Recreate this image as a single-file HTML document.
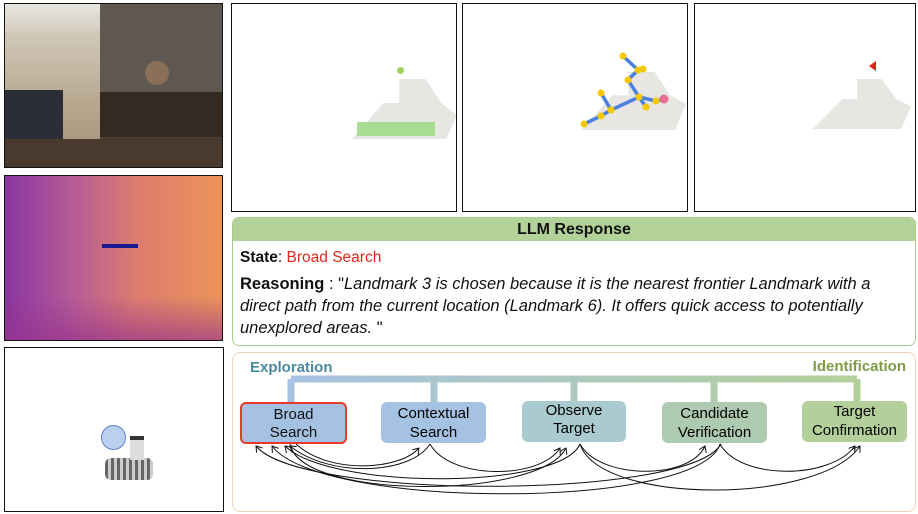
<!DOCTYPE html>
<html><head><meta charset="utf-8"><style>
body{margin:0;width:918px;height:514px;background:#fff;position:relative;overflow:hidden;font-family:"Liberation Sans",sans-serif}
.p{position:absolute;border:1.5px solid #111;box-sizing:border-box;overflow:hidden}
</style></head><body>
<!-- RGB image -->
<div class="p" style="left:4px;top:3px;width:219px;height:165px;background:linear-gradient(180deg,#3a332c 0%,#4a4038 60%,#4b3c30 100%)">
 <div style="position:absolute;left:0;top:0;width:95px;height:165px;background:linear-gradient(180deg,#e8e6e2 0%,#cfc6b6 20%,#b8a890 60%,#a08f78 100%)"></div>
 <div style="position:absolute;left:0;top:86px;width:58px;height:80px;background:#2b2e36"></div>
 <div style="position:absolute;left:95px;top:0;width:124px;height:88px;background:#5e5850"></div>
 <div style="position:absolute;left:95px;top:88px;width:124px;height:45px;background:#352a22"></div>
 <div style="position:absolute;left:0;top:135px;width:219px;height:30px;background:#4a3a2e"></div>
 <div style="position:absolute;left:140px;top:57px;width:24px;height:24px;border-radius:50%;background:#8a7058"></div>
</div>
<!-- Depth -->
<div class="p" style="left:4px;top:175px;width:219px;height:166px;background:linear-gradient(90deg,#8a35a0 0%,#b45a98 30%,#dc7c70 60%,#eb9458 100%)">
 <div style="position:absolute;left:0;top:120px;width:219px;height:46px;background:linear-gradient(180deg,rgba(200,100,120,0) 0%,rgba(150,50,140,.7) 100%)"></div>
 <div style="position:absolute;left:97px;top:68px;width:36px;height:4px;background:#1a1a90"></div>
</div>
<!-- Robot -->
<div class="p" style="left:4px;top:347px;width:220px;height:165px;background:#fff">
 <div style="position:absolute;left:100px;top:110px;width:48px;height:22px;border-radius:6px;background:repeating-linear-gradient(90deg,#666 0 3px,#ccc 3px 6px)"></div>
 <div style="position:absolute;left:125px;top:88px;width:14px;height:20px;background:#ddd;border-top:4px solid #333"></div>
 <div style="position:absolute;left:96px;top:77px;width:23px;height:23px;border-radius:50%;background:#bcd0f0;border:1.5px solid #5a80c8"></div>
</div>
<!-- Map panels -->
<div class="p" style="left:231px;top:3px;width:226px;height:209px">
 <div style="position:absolute;left:120px;top:75px;width:105px;height:60px;background:#e8e6e2;clip-path:polygon(0 100%,30% 40%,45% 40%,45% 0,70% 0,85% 40%,100% 60%,90% 100%)"></div>
 <div style="position:absolute;left:125px;top:118px;width:78px;height:14px;background:#a8dc90"></div>
 <div style="position:absolute;left:165px;top:63px;width:7px;height:7px;border-radius:50%;background:#a0d060"></div>
</div>
<div class="p" style="left:462px;top:3px;width:226px;height:209px">
 <div style="position:absolute;left:118px;top:68px;width:105px;height:58px;background:#e8e6e2;clip-path:polygon(0 100%,30% 40%,45% 40%,45% 0,70% 0,85% 40%,100% 55%,90% 100%)"></div>
 <svg style="position:absolute;left:0;top:0" width="226" height="209"><g stroke="#4a80e0" stroke-width="3.5" fill="none"><polyline points="121,120 138,112 148,106 176,93 183,103"/><polyline points="148,106 138,89"/><polyline points="176,93 165,76 175,66 160,52"/><polyline points="175,66 180,65"/><polyline points="176,93 193,97 203,95"/></g>
 <g fill="#f5c800"><circle cx="121" cy="120" r="3.5"/><circle cx="138" cy="112" r="3.5"/><circle cx="148" cy="106" r="3.5"/><circle cx="138" cy="89" r="3.5"/><circle cx="176" cy="93" r="3.5"/><circle cx="183" cy="103" r="3.5"/><circle cx="165" cy="76" r="3.5"/><circle cx="175" cy="66" r="3.5"/><circle cx="160" cy="52" r="3.5"/><circle cx="180" cy="65" r="3.5"/><circle cx="193" cy="97" r="3.5"/></g><circle cx="201" cy="95" r="4.5" fill="#e87090"/></svg>
</div>
<div class="p" style="left:694px;top:3px;width:222px;height:209px">
 <div style="position:absolute;left:118px;top:75px;width:98px;height:50px;background:#e8e6e2;clip-path:polygon(0 100%,30% 40%,45% 40%,45% 0,70% 0,85% 40%,100% 55%,90% 100%)"></div>
 <div style="position:absolute;left:174px;top:57px;width:0;height:0;border-top:5px solid transparent;border-bottom:5px solid transparent;border-right:7px solid #e02010"></div>
</div>
<!-- LLM panel -->
<div style="position:absolute;left:232px;top:217px;width:684px;height:129px;border:1.5px solid #a9cc8d;border-radius:7px;box-sizing:border-box;overflow:hidden;font-size:16.5px;color:#111">
 <div style="background:#b3d29a;height:23px;text-align:center;font-weight:bold;font-size:16px;line-height:24px">LLM Response</div>
 <div style="padding:5px 7px 0 7px;line-height:23px;font-size:15.5px"><b>State</b>: <span style="color:#e0281c">Broad Search</span></div>
 <div style="padding:4px 7px 0 7px;line-height:22px;white-space:nowrap"><b>Reasoning</b> : "<i>Landmark 3 is chosen because it is the nearest frontier Landmark with a<br>direct path from the current location (Landmark 6). It offers quick access to potentially<br>unexplored areas. </i>"</div>
</div>
<!-- State diagram -->
<div style="position:absolute;left:232px;top:352px;width:684px;height:160px;border:1.5px solid #f3d2b4;border-radius:8px;box-sizing:border-box"></div>
<div style="position:absolute;left:250px;top:359px;font-weight:bold;font-size:15px;color:#4a88a2">Exploration</div>
<div style="position:absolute;right:12px;top:358px;font-weight:bold;font-size:15px;color:#7e9c45">Identification</div>
<svg style="position:absolute;left:0;top:0" width="918" height="514">
 <defs><linearGradient id="g" x1="0" x2="1"><stop offset="0" stop-color="#a6c2e2"/><stop offset="1" stop-color="#b4d09a"/></linearGradient>
 <marker id="a" markerWidth="8" markerHeight="8" refX="6" refY="4" orient="auto"><path d="M0,0 L6,4 L0,8" fill="none" stroke="#111" stroke-width="1"/></marker></defs>
 <path d="M291,379 H857 M291,379 V402 M434,379 V402 M574,379 V402 M714,379 V402 M857,379 V402" stroke="url(#g)" stroke-width="7" fill="none"/>
 <g stroke="#111" stroke-width="1" fill="none" marker-end="url(#a)">
  <path d="M296,444 C330,475 400,470 419,448"/>
  <path d="M430,444 C410,475 330,478 290,446"/>
  <path d="M430,444 C450,480 540,480 560,448"/>
  <path d="M580,444 C560,490 330,490 285,446"/>
  <path d="M580,444 C600,480 690,480 705,446"/>
  <path d="M580,444 C600,505 820,505 860,446"/>
  <path d="M720,444 C740,480 830,480 855,446"/>
  <path d="M720,444 C700,510 320,510 272,446"/>
  <path d="M721,444 C690,500 300,500 256,446"/>
  <path d="M290,444 C300,500 540,500 566,448"/>
 </g>
</svg>
<div style="position:absolute;left:240px;top:402px;width:107px;height:42px;background:#a6c2e2;border:2.5px solid #e53a2c;border-radius:6px;box-sizing:border-box;text-align:center;font-size:15px;line-height:18px;padding-top:2px;color:#111">Broad<br>Search</div>
<div style="position:absolute;left:381px;top:402px;width:105px;height:41px;background:#a6c2e2;border-radius:6px;text-align:center;font-size:15px;line-height:19px;padding-top:2px;box-sizing:border-box">Contextual<br>Search</div>
<div style="position:absolute;left:522px;top:401px;width:104px;height:41px;background:#a9cbd0;border-radius:6px;text-align:center;font-size:15px;line-height:18px;padding-top:1px;box-sizing:border-box">Observe<br>Target</div>
<div style="position:absolute;left:662px;top:402px;width:105px;height:41px;background:#aecab0;border-radius:6px;text-align:center;font-size:15px;line-height:19px;padding-top:2px;box-sizing:border-box">Candidate<br>Verification</div>
<div style="position:absolute;left:802px;top:401px;width:105px;height:41px;background:#b3d09a;border-radius:6px;text-align:center;font-size:15px;line-height:19px;padding-top:1px;box-sizing:border-box">Target<br>Confirmation</div>
</body></html>
